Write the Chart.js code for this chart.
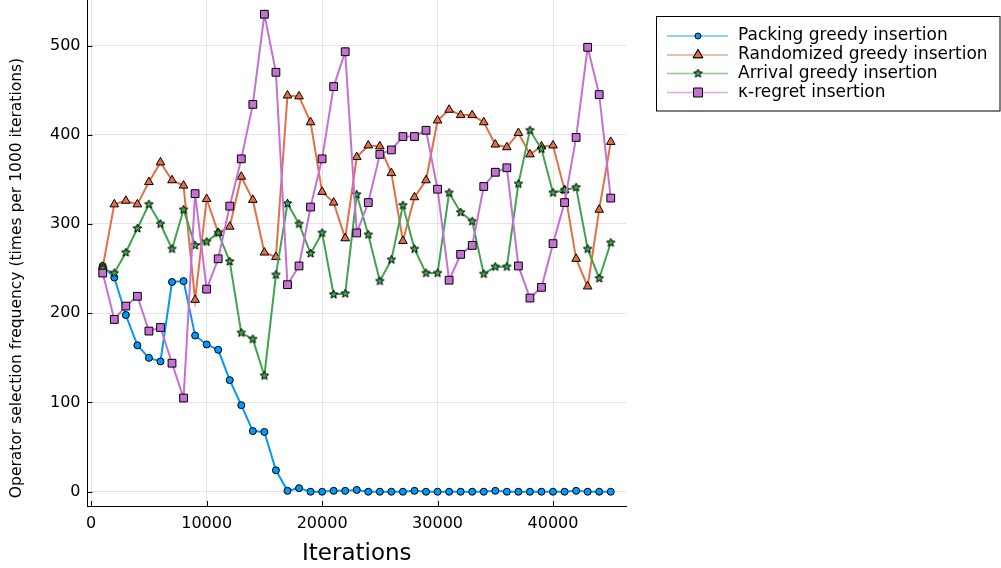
<!DOCTYPE html>
<html>
<head>
<meta charset="utf-8">
<script src="https://cdn.jsdelivr.net/npm/chart.js@4"></script>
<style>
  html, body { margin: 0; padding: 0; background: #fff; }
  #wrap { width: 1001px; height: 568px; }
</style>
</head>
<body>
<div id="wrap"><canvas id="c" width="1001" height="568"></canvas></div>
<script>
const iterations = [1000, 2000, 3000, 4000, 5000, 6000, 7000, 8000, 9000, 10000,
  11000, 12000, 13000, 14000, 15000, 16000, 17000, 18000, 19000, 20000,
  21000, 22000, 23000, 24000, 25000, 26000, 27000, 28000, 29000, 30000,
  31000, 32000, 33000, 34000, 35000, 36000, 37000, 38000, 39000, 40000,
  41000, 42000, 43000, 44000, 45000];

const packingGreedy = [253, 240, 198, 164, 150, 146, 235, 236, 175, 165,
  159, 125, 97, 68, 67, 24, 1, 4, 0, 0,
  1, 1, 2, 0, 0, 0, 0, 1, 0, 0,
  0, 0, 0, 0, 1, 0, 0, 0, 0, 0,
  0, 1, 0, 0, 0];

const randomizedGreedy = [252, 322, 326, 322, 347, 369, 349, 343, 215, 328,
  290, 297, 353, 327, 268, 263, 444, 443, 414, 336,
  324, 284, 375, 388, 387, 357, 281, 330, 349, 416,
  428, 422, 422, 414, 389, 386, 402, 378, 387, 388,
  338, 261, 230, 316, 392];

const arrivalGreedy = [250, 245, 268, 295, 322, 300, 272, 316, 276, 280,
  290, 258, 178, 171, 130, 243, 323, 300, 267, 290,
  221, 222, 333, 288, 236, 260, 321, 272, 245, 245,
  335, 313, 303, 244, 252, 252, 345, 405, 384, 335,
  338, 341, 272, 239, 279];

const kRegret = [245, 193, 208, 219, 180, 184, 144, 105, 334, 227,
  261, 320, 373, 434, 535, 470, 232, 253, 319, 373,
  454, 493, 290, 324, 378, 383, 398, 398, 405, 339,
  237, 266, 276, 342, 358, 363, 253, 217, 229, 278,
  324, 397, 498, 445, 329];

const seriesNames = ["Packing greedy insertion", "Randomized greedy insertion", "Arrival greedy insertion", "κ-regret insertion"];
const xTickValues = [0, 10000, 20000, 30000, 40000];
const yTickValues = [0, 100, 200, 300, 400, 500];
const xTitle = "Iterations";
const yTitle = "Operator selection frequency (times per 1000 iterations)";

const FONT = "'DejaVu Sans', 'Liberation Sans', sans-serif";
const colors = ["#009AFA", "#E36F47", "#3EA44E", "#C371D2"];

function makeStar(size, fill) {
  const cv = document.createElement('canvas');
  cv.width = size; cv.height = size;
  const ctx = cv.getContext('2d');
  const cx = size / 2, cy = size / 2;
  const R = size / 2 - 1, r = R * 0.45;
  ctx.beginPath();
  for (let i = 0; i < 10; i++) {
    const rad = i % 2 === 0 ? R : r;
    const a = -Math.PI / 2 + i * Math.PI / 5;
    const px = cx + rad * Math.cos(a), py = cy + rad * Math.sin(a);
    if (i === 0) ctx.moveTo(px, py); else ctx.lineTo(px, py);
  }
  ctx.closePath();
  ctx.fillStyle = fill;
  ctx.fill();
  ctx.lineWidth = 1;
  ctx.strokeStyle = '#000';
  ctx.stroke();
  return cv;
}
const starImg = makeStar(11, colors[2]);

function pts(ys) { return iterations.map((x, i) => ({ x: x, y: ys[i] })); }

const datasets = [
  { label: seriesNames[0], data: pts(packingGreedy), borderColor: colors[0], backgroundColor: colors[0],
    pointStyle: 'circle', pointRadius: 3.5, order: 4 },
  { label: seriesNames[1], data: pts(randomizedGreedy), borderColor: colors[1], backgroundColor: colors[1],
    pointStyle: 'triangle', pointRadius: 5, order: 3 },
  { label: seriesNames[2], data: pts(arrivalGreedy), borderColor: colors[2], backgroundColor: colors[2],
    pointStyle: starImg, pointRadius: 5, order: 2 },
  { label: seriesNames[3], data: pts(kRegret), borderColor: colors[3], backgroundColor: colors[3],
    pointStyle: 'rect', pointRadius: 5.5, order: 1 }
].map(d => Object.assign(d, {
  borderWidth: 2,
  pointBorderColor: '#000',
  pointBorderWidth: 1,
  pointBackgroundColor: d.backgroundColor,
  pointHoverRadius: d.pointRadius,
  tension: 0,
  fill: false
}));

const decorPlugin = {
  id: 'decor',
  afterDraw(chart) {
    const ctx = chart.ctx;
    const xs = chart.scales.x, ys = chart.scales.y;
    const area = chart.chartArea;
    ctx.save();
    // inner tick marks
    ctx.strokeStyle = '#000';
    ctx.lineWidth = 1;
    ctx.beginPath();
    xTickValues.forEach(v => {
      const px = Math.round(xs.getPixelForValue(v)) + 0.5;
      ctx.moveTo(px, area.bottom); ctx.lineTo(px, area.bottom - 5);
    });
    yTickValues.forEach(v => {
      const py = Math.round(ys.getPixelForValue(v)) + 0.5;
      ctx.moveTo(area.left, py); ctx.lineTo(area.left + 5, py);
    });
    ctx.stroke();

    // y title
    ctx.save();
    ctx.translate(17, 278);
    ctx.rotate(-Math.PI / 2);
    ctx.font = "15.5px " + FONT;
    ctx.fillStyle = '#000';
    ctx.textAlign = 'center';
    ctx.textBaseline = 'middle';
    ctx.fillText(yTitle, 0, 0);
    ctx.restore();

    // legend
    const bx = 656.5, by = 16.5, bw = 343.5, bh = 94.5;
    ctx.fillStyle = '#fff';
    ctx.fillRect(bx, by, bw, bh);
    ctx.strokeStyle = '#000';
    ctx.lineWidth = 1;
    ctx.strokeRect(bx, by, bw, bh);
    const rowsY = [36, 55, 73.5, 92.5];
    chart.data.datasets.forEach((ds, i) => {
      const y = rowsY[i];
      ctx.strokeStyle = ds.borderColor;
      ctx.globalAlpha = 0.6;
      ctx.lineWidth = 1.5;
      ctx.beginPath();
      ctx.moveTo(667, y); ctx.lineTo(728, y);
      ctx.stroke();
      ctx.globalAlpha = 1;
      const mx = 698;
      ctx.fillStyle = ds.backgroundColor;
      ctx.strokeStyle = '#000';
      ctx.lineWidth = 1;
      if (i === 0) {
        ctx.beginPath(); ctx.arc(mx, y, 3, 0, Math.PI * 2); ctx.fill(); ctx.stroke();
      } else if (i === 1) {
        Chart.helpers.drawPoint(ctx, { pointStyle: 'triangle', radius: 5.5, borderWidth: 1 }, mx, y);
        ctx.fill(); ctx.stroke();
      } else if (i === 2) {
        ctx.drawImage(starImg, mx - starImg.width / 2, y - starImg.height / 2);
      } else {
        ctx.beginPath(); ctx.rect(mx - 4.5, y - 4.5, 9, 9); ctx.fill(); ctx.stroke();
      }
      ctx.fillStyle = '#000';
      ctx.font = "17px " + FONT;
      ctx.textAlign = 'left';
      ctx.textBaseline = 'middle';
      ctx.fillText(ds.label, 738, y);
    });
    ctx.restore();
  }
};

new Chart(document.getElementById('c'), {
  type: 'line',
  data: { datasets: datasets },
  options: {
    responsive: false,
    animation: false,
    devicePixelRatio: 1,
    layout: { autoPadding: false, padding: { left: 0, right: 375, top: 0, bottom: 0 } },
    plugins: { legend: { display: false }, tooltip: { enabled: false } },
    scales: {
      x: {
        type: 'linear',
        min: -320, max: 46320,
        afterBuildTicks: s => { s.ticks = xTickValues.map(v => ({ value: v })); },
        afterFit: s => { s.height = 62; s.paddingLeft = 0; s.paddingRight = 0; s.paddingTop = 0; s.paddingBottom = 0; },
        ticks: { color: '#000', font: { family: FONT, size: 16 }, padding: 8, maxRotation: 0,
                 callback: v => String(v) },
        grid: { color: 'rgba(0,0,0,0.1)', lineWidth: 1, drawTicks: false },
        border: { display: true, color: '#000', width: 1 },
        title: { display: true, text: xTitle, color: '#000', font: { family: FONT, size: 23 },
                 padding: { top: 0, bottom: 0 } }
      },
      y: {
        type: 'linear',
        min: -16, max: 551,
        afterBuildTicks: s => { s.ticks = yTickValues.map(v => ({ value: v })); },
        afterFit: s => { s.width = 87.5; s.paddingTop = 0; s.paddingBottom = 0; s.paddingLeft = 0; s.paddingRight = 0; },
        ticks: { color: '#000', font: { family: FONT, size: 16 }, padding: 7,
                 callback: v => String(v) },
        grid: { color: 'rgba(0,0,0,0.1)', lineWidth: 1, drawTicks: false },
        border: { display: true, color: '#000', width: 1 }
      }
    }
  },
  plugins: [decorPlugin]
});
</script>
</body>
</html>
